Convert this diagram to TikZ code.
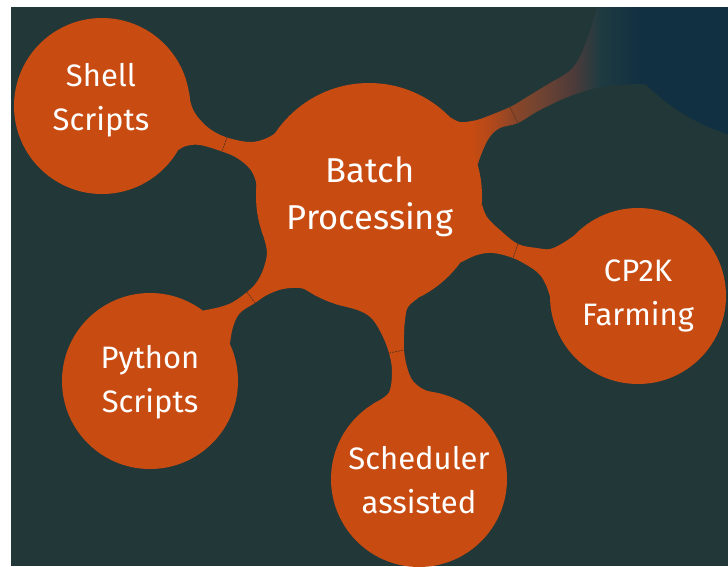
\documentclass[tikz,border=0pt]{standalone}
\usepackage{fontspec}
\setmainfont{Fira Sans}
\definecolor{bg}{HTML}{223838}
\definecolor{orng}{HTML}{C84B11}
\definecolor{blu}{HTML}{113041}
\definecolor{divc}{HTML}{5C3420}
\definecolor{fa}{HTML}{B4491A}
\definecolor{fb}{HTML}{8A4628}
\definecolor{fc}{HTML}{704331}
\definecolor{fd}{HTML}{4D3B3A}
\definecolor{fe}{HTML}{1F3B41}
\pgfdeclarehorizontalshading{neckfade}{100bp}{color(0bp)=(orng); color(29.8bp)=(orng); color(34.5bp)=(fa); color(40.2bp)=(fb); color(46.4bp)=(fc); color(54.3bp)=(fd); color(60.7bp)=(fe); color(70.2bp)=(blu); color(100bp)=(blu)}
\pgfdeclarelayer{back}
\pgfdeclarelayer{necks}
\pgfsetlayers{back,necks,main}
\tikzset{
  bubble/.style={circle, fill=orng, inner sep=0pt, minimum size=176pt},
  lbl/.style={text=white, inner sep=0pt, align=center, font=\fontsize{31}{44}\selectfont},
  biglbl/.style={lbl, font=\fontsize{34.5}{47}\selectfont},
  neck/.style={fill=orng},
  divider/.style={draw=divc, line width=0.7pt, dash pattern=on 2pt off 1pt},
  sm/.style={smooth, tension=0.6}
}
\begin{document}
\begin{tikzpicture}[x=1pt,y=-1pt]
\useasboundingbox (0,0) rectangle (728,566);
% bubbles
\node[bubble] (S) at (102,106) {};
\node[bubble, minimum size=226pt] (B) at (369,196) {};
\node[bubble] (C) at (638,296) {};
\node[bubble] (P) at (150,381) {};
\node[bubble] (D) at (419,479) {};
% labels
\node[lbl] (St) at (101,100.5) {Shell\\Scripts};
\node[biglbl] (Bt) at (370,197) {Batch\\Processing};
\node[lbl] (Ct) at (638,296) {CP2K\\Farming};
\node[lbl] (Pt) at (150,382) {Python\\Scripts};
\node[lbl] (Dt) at (419,480) {Scheduler\\assisted};
% neck waists
\coordinate (n1a) at (227,137.5); \coordinate (n1b) at (222,151.5);
\coordinate (n2a) at (247,292);   \coordinate (n2b) at (255,303);
\coordinate (n3a) at (389,353);   \coordinate (n3b) at (404,350);
\coordinate (n4a) at (518,244);   \coordinate (n4b) at (513,258);
\coordinate (n5a) at (510,107);   \coordinate (n5b) at (518,123);
\begin{pgfonlayer}{back}
  \fill[white] (0,0) rectangle (728,566);
  \fill[bg] (11,7) rectangle (728,566);
  \begin{scope}
    \clip (11,7) rectangle (728,566);
    \node[circle, fill=blu, inner sep=0pt, minimum size=408pt] (E) at (790,-60) {};
    \shade[shading=neckfade]
      plot[sm] coordinates {(B.44) (460,122) (472,121) (483,118) (n5a) (527,97) (550,83) (567,73) (577,62) (587,40) (594,18) (600,0)}
      -- (660,0) -- (660,60)
      -- plot[sm] coordinates {(645,84) (607,86) (573,95) (540,110) (n5b) (500,128) (489,138) (481,155) (B.16)} -- cycle;
  \end{scope}
\end{pgfonlayer}
\begin{pgfonlayer}{necks}
  % Shell -- Batch
  \fill[neck] plot[sm] coordinates {(S.10) (191,104) (197,116) (210,129) (n1a) (250,142) (267,138) (280,129) (B.135)}
    -- plot[sm] coordinates {(B.178) (256,182) (250,169) (237,158) (n1b) (200,145) (186,146) (S.-30)} -- cycle;
  % Python -- Batch
  \fill[neck] plot[sm] coordinates {(P.53) (220,307) (233,302) (n2a) (256,283) (263,270) (267,253) (B.-158)}
    -- plot[sm] coordinates {(B.-118) (310,292) (300,288) (283,289) (267,295) (n2b) (240,313) (233,327) (P.25)} -- cycle;
  % Scheduler -- Batch
  \fill[neck] plot[sm] coordinates {(B.-64) (408,307) (405,320) (404,335) (n3b) (407,367) (413,381) (425,390) (D.76)}
    -- plot[sm] coordinates {(D.122) (383,398) (390,390) (392,370) (n3a) (383,337) (373,320) (360,311) (B.-108)} -- cycle;
  % CP2K -- Batch
  \fill[neck] plot[sm] coordinates {(B.-4) (487,217) (500,230) (n4a) (537,248) (550,249) (563,243) (C.137)}
    -- plot[sm] coordinates {(C.180) (546,285) (540,275) (530,267) (n4b) (493,253) (477,255) (B.-36)} -- cycle;
\end{pgfonlayer}
% dividers across the waists
\draw[divider] (n1a) -- (n1b);
\draw[divider] (n2a) -- (n2b);
\draw[divider] (n3a) -- (n3b);
\draw[divider] (n4a) -- (n4b);
\draw[divider] (n5a) -- (n5b);
\end{tikzpicture}
\end{document}
